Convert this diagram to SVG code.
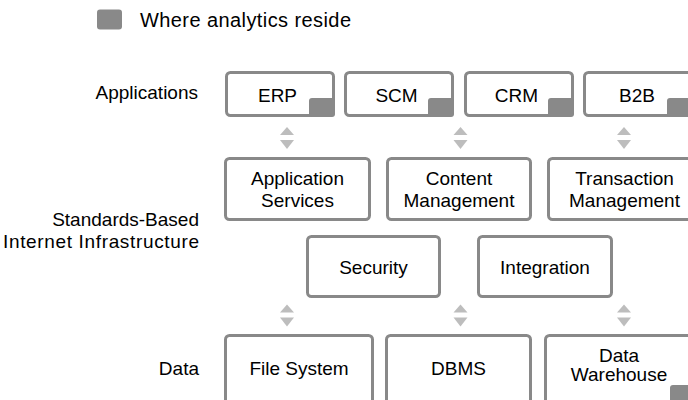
<svg xmlns="http://www.w3.org/2000/svg" width="688" height="400" viewBox="0 0 688 400">
<style>
  .box { fill: #fff; stroke: #898989; stroke-width: 3; }
  .mark { fill: #898989; }
  .t { font-family: "Liberation Sans", Arial, sans-serif; font-size: 19px; fill: #000; text-anchor: middle; }
  .lbl { font-family: "Liberation Sans", Arial, sans-serif; font-size: 19px; fill: #000; text-anchor: end; }
  .arr { fill: #bdbdbd; }
</style>
<defs>
  <g id="dbl">
    <polygon points="0,-12 -7,-4 7,-4"/>
    <polygon points="-7,1 7,1 0,10"/>
  </g>
</defs>
<rect width="688" height="400" fill="#fff"/>

<g id="legend">
  <rect class="mark" x="97" y="9.5" width="25" height="20" rx="3"/>
  <text class="t" x="140" y="27" style="text-anchor:start;font-size:20px" textLength="211">Where analytics reside</text>
</g>

<g id="labels">
  <text class="lbl" x="198" y="99">Applications</text>
  <text class="lbl" x="199" y="226">Standards-Based</text>
  <text class="lbl" x="199" y="248" textLength="196">Internet Infrastructure</text>
  <text class="lbl" x="199" y="375">Data</text>
</g>

<g id="connectors" class="arr">
  <use href="#dbl" x="287" y="139"/>
  <use href="#dbl" x="460.5" y="139"/>
  <use href="#dbl" x="624" y="139"/>
  <use href="#dbl" x="287" y="316.5"/>
  <use href="#dbl" x="460.5" y="316.5"/>
  <use href="#dbl" x="624" y="316.5"/>
</g>

<g id="erp">
  <rect class="box" x="226.5" y="72.5" width="107" height="43" rx="4"/>
  <rect class="mark" x="309" y="98" width="26" height="19" rx="3"/>
  <text class="t" x="277.5" y="101.5">ERP</text>
</g>
<g id="scm">
  <rect class="box" x="345.5" y="72.5" width="107" height="43" rx="4"/>
  <rect class="mark" x="428" y="98" width="26" height="19" rx="3"/>
  <text class="t" x="396.5" y="101.5">SCM</text>
</g>
<g id="crm">
  <rect class="box" x="465.5" y="72.5" width="107" height="43" rx="4"/>
  <rect class="mark" x="548" y="98" width="26" height="19" rx="3"/>
  <text class="t" x="516.5" y="101.5">CRM</text>
</g>
<g id="b2b">
  <rect class="box" x="584.5" y="72.5" width="107" height="43" rx="4"/>
  <rect class="mark" x="667" y="98" width="26" height="19" rx="3"/>
  <text class="t" x="637" y="101.5">B2B</text>
</g>

<g id="app-services">
  <rect class="box" x="225.5" y="158.5" width="144" height="61" rx="4"/>
  <text class="t" x="297.5" y="185">Application</text>
  <text class="t" x="297.5" y="206.5">Services</text>
</g>
<g id="content-mgmt">
  <rect class="box" x="387.5" y="158.5" width="143" height="61" rx="4"/>
  <text class="t" x="459" y="185">Content</text>
  <text class="t" x="459" y="206.5">Management</text>
</g>
<g id="transaction-mgmt">
  <rect class="box" x="548.5" y="158.5" width="150" height="61" rx="4"/>
  <text class="t" x="624.5" y="185">Transaction</text>
  <text class="t" x="624.5" y="206.5">Management</text>
</g>

<g id="security">
  <rect class="box" x="307.5" y="236.5" width="132" height="60" rx="4"/>
  <text class="t" x="373.5" y="274">Security</text>
</g>
<g id="integration">
  <rect class="box" x="478.5" y="236.5" width="133" height="60" rx="4"/>
  <text class="t" x="545" y="274">Integration</text>
</g>

<g id="file-system">
  <rect class="box" x="225.5" y="335.5" width="147" height="68" rx="4"/>
  <text class="t" x="299" y="375">File System</text>
</g>
<g id="dbms">
  <rect class="box" x="386.5" y="335.5" width="144" height="68" rx="4"/>
  <text class="t" x="458.5" y="375">DBMS</text>
</g>
<g id="data-warehouse">
  <rect class="box" x="545.5" y="335.5" width="148" height="68" rx="4"/>
  <rect class="mark" x="670" y="385" width="26" height="20" rx="3"/>
  <text class="t" x="619" y="361.5">Data</text>
  <text class="t" x="619" y="380.5">Warehouse</text>
</g>
</svg>
